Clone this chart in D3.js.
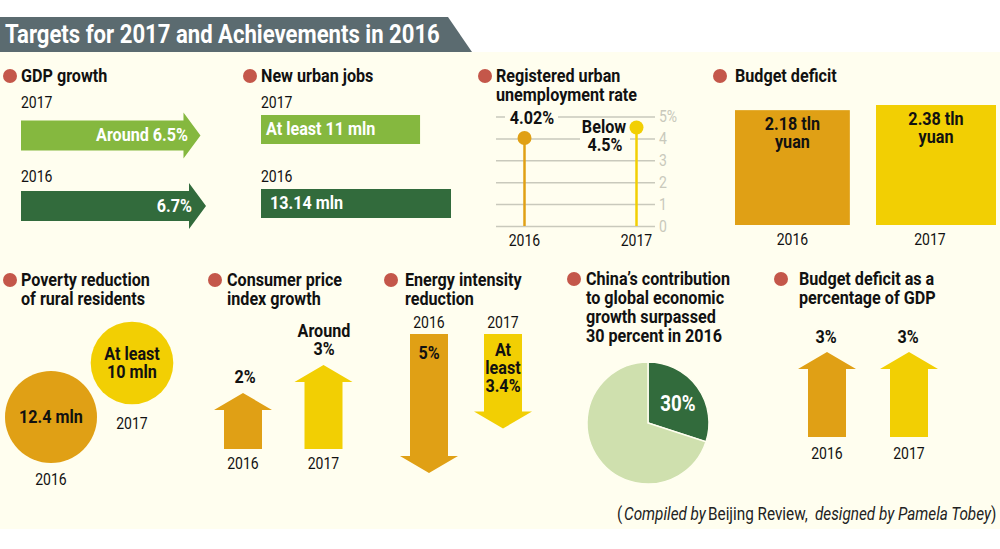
<!DOCTYPE html>
<html>
<head>
<meta charset="utf-8">
<script src="https://cdn.jsdelivr.net/npm/d3@7"></script>
<style>
  html, body { margin: 0; padding: 0; background: #fff; }
  svg { display: block; }
  text { font-family: "Roboto", sans-serif; }
  .title { font-weight: 700; font-size: 19px; fill: #111; }
  .year { font-size: 16.5px; fill: #111; }
  .val { font-weight: 700; font-size: 19px; fill: #111; text-anchor: middle; }
  .tick text { font-size: 16.5px; fill: #c9c9bc; }
  .tick line { stroke: #c9c9bc; stroke-width: 1.5; }
  .source { font-size: 18px; fill: #222; }
</style>
</head>
<body>
<svg id="chart" width="1000" height="549"></svg>
<script>
const years = ['2016', '2017'];
const gdpValues = [6.7, 6.5];
const gdpLabels = ['6.7%', 'Around 6.5%'];
const jobsValues = [13.14, 11];
const jobsLabels = ['13.14 mln', 'At least 11 mln'];
const unemploymentValues = [4.02, 4.5];
const unemploymentTicks = [0, 1, 2, 3, 4, 5];
const deficitValues = [2.18, 2.38];
const povertyValues = [12.4, 10];
const cpiValues = [2, 3];
const energyValues = [5, 3.4];
const deficitPctValues = [3, 3];
const contribution = [30, 70];
const sourceParts = ['(', 'Compiled by', 'Beijing Review,', 'designed by Pamela Tobey', ')'];

const gold = '#e0a015';
const yellow = '#f2cf03';
const darkGreen = '#326b3c';
const lightGreen = '#85b83f';
const paleGreen = '#cfe0ae';
const red = '#c4574a';
const cream = '#fffeef';

const svg = d3.select('#chart');

// background and header banner
svg.append('rect').attr('x', 0).attr('y', 52).attr('width', 1000).attr('height', 477).attr('fill', cream);
svg.append('path').attr('d', 'M0,17H448L472,52H0Z').attr('fill', '#5b6b70');
svg.append('text').attr('class', 'banner').attr('x', 5).attr('y', 43).attr('fill', '#fff')
  .style('font-weight', 700).style('font-size', '25px')
  .text('Targets for 2017 and Achievements in 2016');

function heading(cx, x, y, lines) {
  svg.append('circle').attr('cx', cx).attr('cy', y - 6).attr('r', 7).attr('fill', red);
  lines.forEach((line, i) => {
    svg.append('text').attr('class', 'title').attr('x', x).attr('y', y + i * 19).text(line);
  });
}

function yearLabel(x, y, txt, anchor) {
  svg.append('text').attr('class', 'year').attr('x', x).attr('y', y)
    .attr('text-anchor', anchor || 'middle').text(txt);
}

function valueLabel(x, y, lines, fill, step) {
  lines.forEach((line, i) => {
    svg.append('text').attr('class', 'val').attr('x', x).attr('y', y + i * (step || 18))
      .style('fill', fill || '#111').text(line);
  });
}

// vertical block arrow; y0 is the flat end, y1 the tip
function vArrow(cx, y0, y1, fill) {
  const dir = y1 < y0 ? 1 : -1;
  const base = y1 + dir * 17;
  const p = d3.path();
  p.moveTo(cx - 19, y0);
  p.lineTo(cx - 19, base);
  p.lineTo(cx - 29, base);
  p.lineTo(cx, y1);
  p.lineTo(cx + 29, base);
  p.lineTo(cx + 19, base);
  p.lineTo(cx + 19, y0);
  p.closePath();
  svg.append('path').attr('d', p.toString()).attr('fill', fill);
}

// horizontal block arrow
function hArrow(x0, x1, cy, fill) {
  const base = x1 - 17;
  const p = d3.path();
  p.moveTo(x0, cy - 15);
  p.lineTo(base, cy - 15);
  p.lineTo(base, cy - 23);
  p.lineTo(x1, cy);
  p.lineTo(base, cy + 23);
  p.lineTo(base, cy + 15);
  p.lineTo(x0, cy + 15);
  p.closePath();
  svg.append('path').attr('d', p.toString()).attr('fill', fill);
}

// GDP growth
heading(10, 21, 82, ['GDP growth']);
const gdpX = d3.scaleLinear().domain([0, 6.7]).range([21, 206]);
const gdpY = [206, 135.5];
const gdpYearY = [182, 108];
const gdpFill = [darkGreen, lightGreen];
gdpValues.forEach((v, i) => {
  hArrow(gdpX(0), gdpX(v), gdpY[i], gdpFill[i]);
  svg.append('text').attr('class', 'val').attr('x', [192, 188][i]).attr('y', gdpY[i] + 6)
    .style('text-anchor', 'end').style('fill', '#fff').text(gdpLabels[i]);
  yearLabel(21, gdpYearY[i], years[i], 'start');
});

// New urban jobs
heading(250, 261, 82, ['New urban jobs']);
const jobsX = d3.scaleLinear().domain([0, 13.14]).range([261, 451]);
const jobsY = [189, 115];
jobsValues.forEach((v, i) => {
  svg.append('rect').attr('x', jobsX(0)).attr('y', jobsY[i])
    .attr('width', jobsX(v) - jobsX(0)).attr('height', 29).attr('fill', gdpFill[i]);
  svg.append('text').attr('class', 'val').attr('x', [270, 266][i]).attr('y', jobsY[i] + 20)
    .style('text-anchor', 'start').style('fill', '#fff').text(jobsLabels[i]);
  yearLabel(261, jobsY[i] - 7, years[i], 'start');
});

// Registered urban unemployment rate
heading(485, 496, 82, ['Registered urban', 'unemployment rate']);
const rateY = d3.scaleLinear().domain([0, 5]).range([226, 116.5]);
const rateX = d3.scalePoint().domain(years).range([524.5, 636.5]);
svg.append('g').attr('transform', 'translate(655,0)')
  .call(d3.axisRight(rateY).tickValues(unemploymentTicks).tickSize(-159).tickPadding(4)
    .tickFormat((d) => (d === 5 ? '5%' : d)))
  .call((g) => g.select('.domain').remove())
  .selectAll('.tick text').attr('x', 4);
// blank out the gridlines behind the labels
svg.append('rect').attr('x', 505).attr('y', 110).attr('width', 53).attr('height', 18).attr('fill', cream);
svg.append('rect').attr('x', 580).attr('y', 120).attr('width', 50).attr('height', 34).attr('fill', cream);
const rateFill = [gold, yellow];
unemploymentValues.forEach((v, i) => {
  svg.append('line').attr('x1', rateX(years[i])).attr('x2', rateX(years[i]))
    .attr('y1', rateY(0)).attr('y2', rateY(v))
    .attr('stroke', rateFill[i]).attr('stroke-width', 2.5);
  svg.append('circle').attr('cx', rateX(years[i])).attr('cy', rateY(v)).attr('r', 7).attr('fill', rateFill[i]);
  yearLabel(rateX(years[i]), 246, years[i]);
});
valueLabel(532, 124, ['4.02%']);
valueLabel(604, 133, ['Below']);
valueLabel(605, 151, ['4.5%']);

// Budget deficit, squares scaled by area
heading(720, 735, 82, ['Budget deficit']);
const sideScale = d3.scaleSqrt().domain([0, 2.38]).range([0, 120]);
const squareX = [735, 876];
deficitValues.forEach((v, i) => {
  const side = sideScale(v);
  svg.append('rect').attr('x', squareX[i]).attr('y', 225 - side)
    .attr('width', side).attr('height', side).attr('fill', rateFill[i]);
  valueLabel(squareX[i] + side / 2, 225 - side + 20, [v + ' tln', 'yuan'], '#111', 18);
  yearLabel(squareX[i] + side / 2 + [0, -6][i], 245, years[i]);
});

// Poverty reduction, circles scaled by area
heading(10, 21, 286, ['Poverty reduction', 'of rural residents']);
const radius = d3.scaleSqrt().domain([0, 12.4]).range([0, 46]);
const povCx = [51, 132];
const povCy = [417, 363];
povertyValues.forEach((v, i) => {
  svg.append('circle').attr('cx', povCx[i]).attr('cy', povCy[i]).attr('r', radius(v)).attr('fill', rateFill[i]);
});
valueLabel(51, 423, ['12.4 mln']);
valueLabel(132, 360, ['At least', '10 mln']);
yearLabel(51, 485, years[0]);
yearLabel(132, 429, years[1]);

// Consumer price index growth
heading(215, 227, 286, ['Consumer price', 'index growth']);
const cpiY = d3.scaleLinear().domain([0, 3]).range([449, 365]);
const cpiX = [243, 323.5];
cpiValues.forEach((v, i) => {
  vArrow(cpiX[i], cpiY(0), cpiY(v), rateFill[i]);
  yearLabel(cpiX[i], 469, years[i]);
});
valueLabel(245, 383, ['2%']);
valueLabel(324, 337, ['Around', '3%']);

// Energy intensity reduction
heading(391, 405, 286, ['Energy intensity', 'reduction']);
const energyY = d3.scaleLinear().domain([0, 5]).range([334, 473]);
const energyX = [429, 503];
energyValues.forEach((v, i) => {
  vArrow(energyX[i], energyY(0), energyY(v), rateFill[i]);
  yearLabel(energyX[i], 328, years[i]);
});
valueLabel(429, 359, ['5%']);
valueLabel(503, 356, ['At', 'least', '3.4%']);

// China's contribution
heading(574, 586, 285, ['China\u2019s contribution', 'to global economic', 'growth surpassed', '30 percent in 2016']);
const pie = d3.pie().sort(null);
const arc = d3.arc().innerRadius(0).outerRadius(61);
const pieG = svg.append('g').attr('transform', 'translate(648,423)');
pieG.selectAll('path').data(pie(contribution)).join('path')
  .attr('d', arc)
  .attr('fill', (d, i) => [darkGreen, paleGreen][i])
  .attr('stroke', cream).attr('stroke-width', 1.5);
valueLabel(678, 411, ['30%'], '#fff');
svg.selectAll('.val').filter(function () { return this.textContent === '30%'; }).style('font-size', '22px');

// Budget deficit as a percentage of GDP
heading(781, 799, 285, ['Budget deficit as a', 'percentage of GDP']);
const pctY = d3.scaleLinear().domain([0, 3]).range([437, 352]);
const pctX = [827, 909];
deficitPctValues.forEach((v, i) => {
  vArrow(pctX[i], pctY(0), pctY(v), rateFill[i]);
  valueLabel(pctX[i] - 1, 343, [v + '%']);
  yearLabel(pctX[i], 459, years[i]);
});

// source line, one text per font style
const sourceX = [617, 624, 708, 815, 991];
const sourceItalic = [false, true, false, true, false];
sourceParts.forEach((part, i) => {
  svg.append('text').attr('class', 'source').attr('x', sourceX[i]).attr('y', 520)
    .style('font-style', sourceItalic[i] ? 'italic' : 'normal').text(part);
});

// the original uses a condensed face, so narrow the Roboto glyphs to match
svg.selectAll('text').each(function () {
  const el = d3.select(this);
  const x = +el.attr('x') || 0;
  const k = el.classed('banner') ? 435 / this.getComputedTextLength() : 0.85;
  const old = el.attr('transform') || '';
  el.attr('transform', `${old} translate(${x * (1 - k)},0) scale(${k},1)`);
});
</script>
</body>
</html>
